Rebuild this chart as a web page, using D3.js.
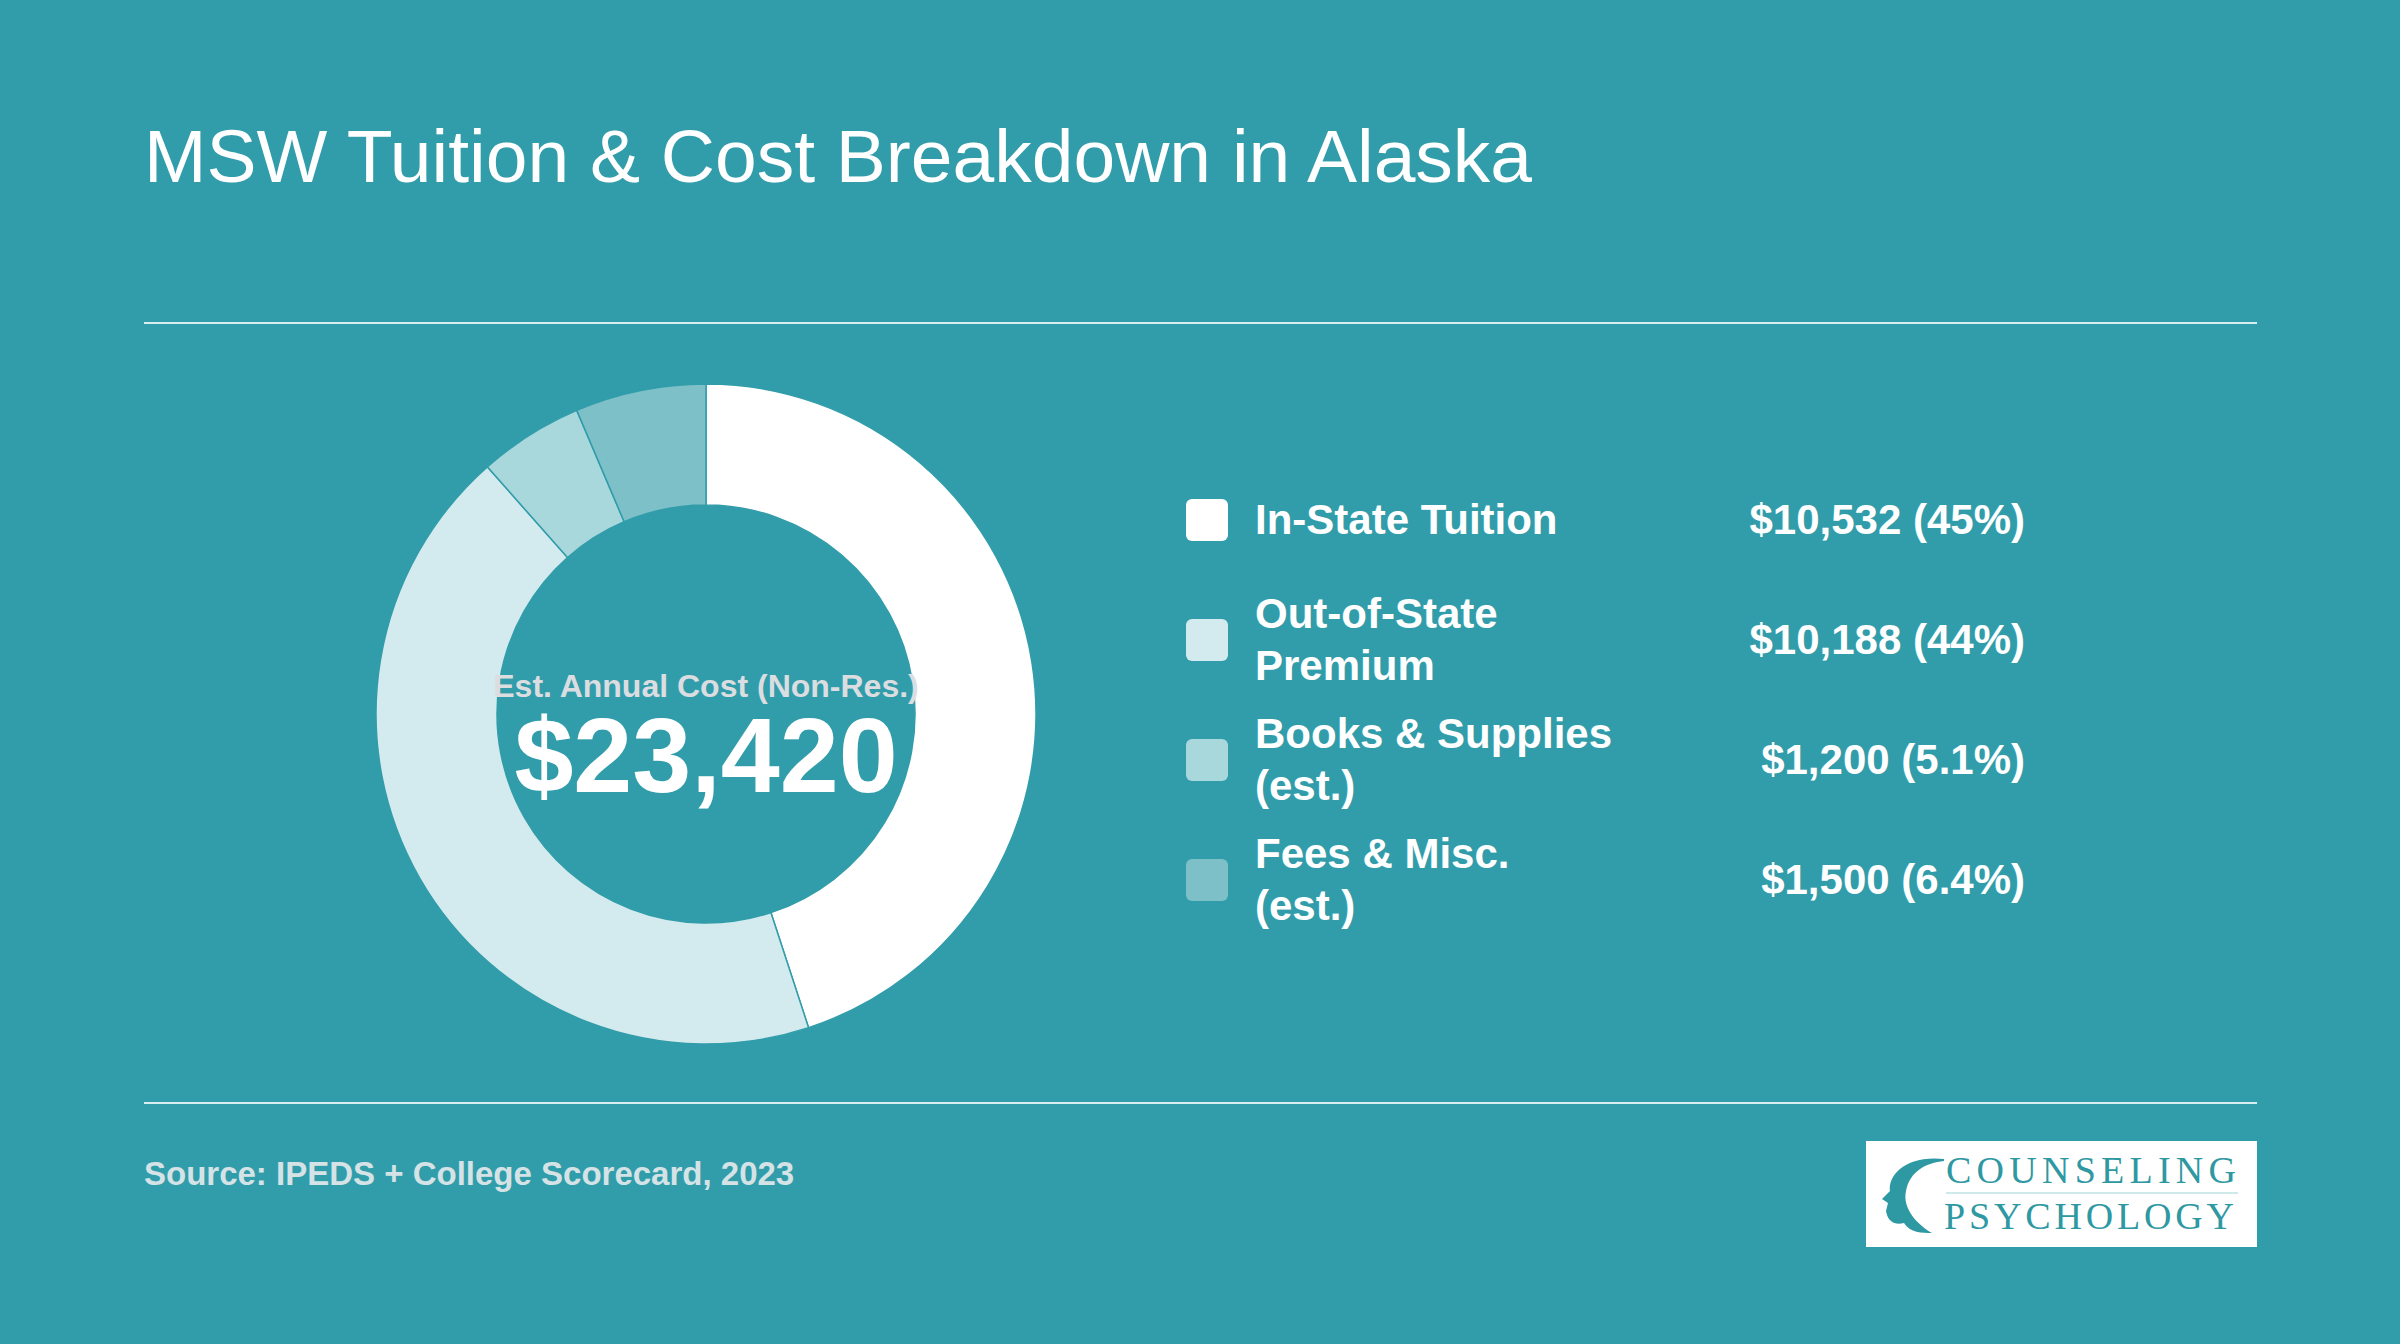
<!DOCTYPE html>
<html>
<head>
<meta charset="utf-8">
<script src="https://cdn.jsdelivr.net/npm/d3@7"></script>
<style>
  body { margin: 0; background: #329daa; }
  svg { display: block; font-family: "Liberation Sans", Arial, sans-serif; }
</style>
</head>
<body>
<svg id="chart"></svg>
<script>
// Data
const categories = ["In-State Tuition", "Out-of-State Premium", "Books & Supplies (est.)", "Fees & Misc. (est.)"];
const labelLines = [["In-State Tuition"], ["Out-of-State", "Premium"], ["Books & Supplies", "(est.)"], ["Fees & Misc.", "(est.)"]];
const values = [10532, 10188, 1200, 1500];
const valueLabels = ["$10,532 (45%)", "$10,188 (44%)", "$1,200 (5.1%)", "$1,500 (6.4%)"];
const colors = ["#ffffff", "#d3ebee", "#a8d7dc", "#7dc0c7"];

const width = 2400, height = 1344;
const svg = d3.select("#chart").attr("width", width).attr("height", height);

svg.append("rect").attr("width", width).attr("height", height).attr("fill", "#329daa");

// Title
svg.append("text")
  .attr("x", 144).attr("y", 182)
  .attr("fill", "#ffffff")
  .style("font-size", "75px")
  .text("MSW Tuition & Cost Breakdown in Alaska");

// Divider lines
[323, 1103].forEach(y => {
  svg.append("line")
    .attr("x1", 144).attr("x2", 2257).attr("y1", y).attr("y2", y)
    .attr("stroke", "#d9eef0").attr("stroke-width", 2);
});

// Donut
const cx = 706, cy = 714, outerR = 330, innerR = 209;
const pie = d3.pie().sort(null).value(d => d);
const arc = d3.arc().innerRadius(innerR).outerRadius(outerR);

const g = svg.append("g").attr("transform", `translate(${cx},${cy})`);
g.selectAll("path")
  .data(pie(values))
  .enter().append("path")
  .attr("d", arc)
  .attr("fill", (d, i) => colors[i])
  .attr("stroke", "#329daa")
  .attr("stroke-width", 1.5);

g.append("text")
  .attr("y", -17)
  .attr("text-anchor", "middle")
  .attr("fill", "#dcdde0")
  .style("font-size", "32px").style("font-weight", "bold")
  .text("Est. Annual Cost (Non-Res.)");

g.append("text")
  .attr("y", 78)
  .attr("text-anchor", "middle")
  .attr("fill", "#ffffff")
  .style("font-size", "106px").style("font-weight", "bold")
  .text("$23,420");

// Legend
const rowY = d3.scalePoint().domain(categories).range([520, 880]);
const legend = svg.selectAll(".legend")
  .data(categories)
  .enter().append("g")
  .attr("class", "legend")
  .attr("transform", d => `translate(0,${rowY(d)})`);

legend.append("rect")
  .attr("x", 1186).attr("y", -21)
  .attr("width", 42).attr("height", 42).attr("rx", 6)
  .attr("fill", (d, i) => colors[i]);

legend.each(function(d, i) {
  const lines = labelLines[i];
  const t = d3.select(this).append("text")
    .attr("x", 1255)
    .attr("fill", "#ffffff")
    .style("font-size", "42px").style("font-weight", "bold");
  lines.forEach((l, j) => {
    t.append("tspan")
      .attr("x", 1255)
      .attr("y", (j - (lines.length - 1) / 2) * 52 + 14)
      .text(l);
  });
});

legend.append("text")
  .attr("x", 2025).attr("y", 14)
  .attr("text-anchor", "end")
  .attr("fill", "#ffffff")
  .style("font-size", "42px").style("font-weight", "bold")
  .text((d, i) => valueLabels[i]);

// Source
svg.append("text")
  .attr("x", 144).attr("y", 1185)
  .attr("fill", "#d5e3e6")
  .style("font-size", "33px").style("font-weight", "bold")
  .text("Source: IPEDS + College Scorecard, 2023");

// Logo
const logo = svg.append("g").attr("transform", "translate(1866,1141)");
logo.append("rect").attr("width", 391).attr("height", 106).attr("fill", "#ffffff");
logo.append("path")
  .attr("d", "M78,18 C40,14 22,34 24,50 L16,58 L22,62 L20,70 C22,82 30,84 38,82 C44,92 56,92 66,92 C52,84 36,68 40,50 C44,30 60,22 78,20 Z")
  .attr("fill", "#2e98a3");
logo.append("text")
  .attr("x", 80).attr("y", 42)
  .attr("fill", "#2e98a3")
  .style("font-family", "'Liberation Serif', serif").style("font-size", "38px")
  .attr("textLength", 290)
  .text("COUNSELING");
logo.append("line")
  .attr("x1", 80).attr("x2", 372).attr("y1", 52).attr("y2", 52)
  .attr("stroke", "#bfe0e3").attr("stroke-width", 1.5);
logo.append("text")
  .attr("x", 78).attr("y", 88)
  .attr("fill", "#2e98a3")
  .style("font-family", "'Liberation Serif', serif").style("font-size", "38px")
  .attr("textLength", 290)
  .text("PSYCHOLOGY");
</script>
</body>
</html>
